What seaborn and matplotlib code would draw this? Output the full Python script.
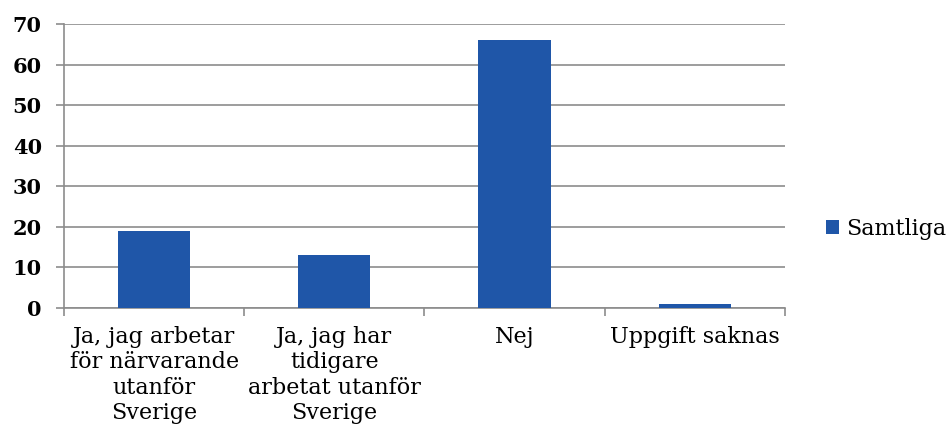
import numpy as np
import pandas as pd
import seaborn as sns
import matplotlib.pyplot as plt

categories = ["Ja, jag arbetar\nför närvarande\nutanför\nSverige",
              "Ja, jag har\ntidigare\narbetat utanför\nSverige",
              "Nej",
              "Uppgift saknas"]
values = [19, 13, 66, 1]
series_name = "Samtliga"

sns.set_theme(style="white")
plt.rcParams['font.family'] = ['DejaVu Serif']
plt.rcParams['text.color'] = 'black'
plt.rcParams['xtick.color'] = 'black'
plt.rcParams['ytick.color'] = 'black'

df = pd.DataFrame({'cat': categories, 'val': values, 'serie': series_name})

fig = plt.figure(figsize=(9.51, 4.43), dpi=100)
ax = fig.add_axes([0.0673, 0.3047, 0.758, 0.641])
sns.barplot(data=df, x='cat', y='val', hue='serie', palette=['#1f56a8'],
            width=0.4, ax=ax, zorder=3, saturation=1, linewidth=0)

ax.set_ylim(0, 70)
ax.set_xlim(-0.5, 3.5)
ax.set_yticks(range(0, 71, 10))
ax.yaxis.grid(True, color='#8c8c8c', linewidth=1.2, zorder=0)
ax.set_axisbelow(True)
for s in ['top', 'right']:
    ax.spines[s].set_visible(False)
for s in ['left', 'bottom']:
    ax.spines[s].set_color('#8c8c8c')
    ax.spines[s].set_linewidth(1.2)
ax.set_xlabel('')
ax.set_ylabel('')

# category boundary ticks like excel
ax.set_xticks([-0.5, 0.5, 1.5, 2.5, 3.5], minor=False)
ax.set_xticklabels([])
ax.set_xticks(range(4), minor=True)
ax.set_xticklabels(categories, minor=True, fontsize=16, linespacing=1.2)
ax.tick_params(axis='x', which='minor', length=0, pad=13, bottom=True)
ax.tick_params(axis='x', which='major', length=6, color='#8c8c8c', width=1.2,
               direction='out', bottom=True)
ax.tick_params(axis='y', length=6, color='#8c8c8c', width=1.2, direction='out',
               labelsize=15, pad=10, left=True)
for t in ax.get_yticklabels():
    t.set_fontweight('bold')

ax.legend(loc='center left', bbox_to_anchor=(1.02, 0.28), frameon=False,
          fontsize=16, handlelength=0.6, handleheight=0.6, handletextpad=0.3,
          borderaxespad=0.8)

fig.savefig('out.png', dpi=100)
